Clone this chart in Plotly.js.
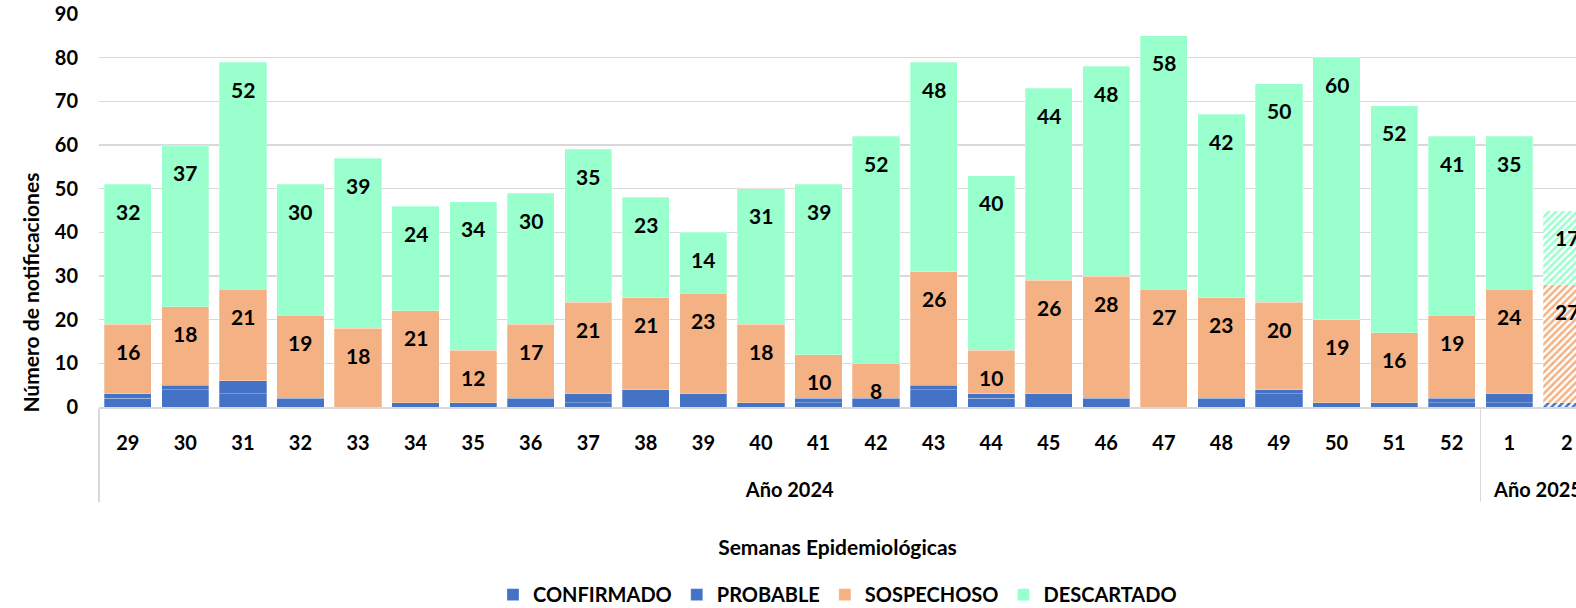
<!DOCTYPE html>
<html>
<head>
<meta charset="utf-8">
<script src="https://cdn.plot.ly/plotly-3.0.1.min.js"></script>
<style>
  html, body { margin: 0; padding: 0; background: #fff; overflow: hidden; }
  #chart { width: 1576px; height: 608px; }
</style>
</head>
<body>
<div id="chart"></div>
<script>
// semanas epidemiologicas y año
const years = ['Año 2024','Año 2024','Año 2024','Año 2024','Año 2024','Año 2024','Año 2024','Año 2024',
  'Año 2024','Año 2024','Año 2024','Año 2024','Año 2024','Año 2024','Año 2024','Año 2024',
  'Año 2024','Año 2024','Año 2024','Año 2024','Año 2024','Año 2024','Año 2024','Año 2024',
  'Año 2025','Año 2025'];
const weeks = ['29','30','31','32','33','34','35','36','37','38','39','40','41','42','43','44',
  '45','46','47','48','49','50','51','52','1','2'];

const confirmado = [2, 4, 3, 0, 0, 0, 0, 0, 1, 0, 0, 0, 1, 0, 4, 2, 0, 0, 0, 0, 3, 0, 0, 1, 1, 0];
const probable   = [1, 1, 3, 2, 0, 1, 1, 2, 2, 4, 3, 1, 1, 2, 1, 1, 3, 2, 0, 2, 1, 1, 1, 1, 2, 1];
const sospechoso = [16, 18, 21, 19, 18, 21, 12, 17, 21, 21, 23, 18, 10, 8, 26, 10, 26, 28, 27, 23, 20, 19, 16, 19, 24, 27];
const descartado = [32, 37, 52, 30, 39, 24, 34, 30, 35, 23, 14, 31, 39, 52, 48, 40, 44, 48, 58, 42, 50, 60, 52, 41, 35, 17];

// la ultima semana es preliminar (rayada)
const preliminar = weeks.map((w, i) => i === weeks.length - 1 ? '/' : '');

const FONT = 'Lato, "Open Sans", sans-serif';

// etiquetas del eje: texto a 20px dentro de un eje de 25px para separar los dos niveles
const lbl = s => '<span style="font-size:20px">' + s + '</span>';
const x = [years.map(y => '<br>' + lbl(y)), weeks.map(lbl)];

function serie(name, values, color) {
  return {
    type: 'bar',
    name: name,
    x: x,
    y: values,
    marker: {
      color: color,
      line: {color: 'rgba(255,255,255,0.35)', width: 0.8},
      pattern: {shape: preliminar, fillmode: 'replace', size: 5, solidity: 0.5, bgcolor: '#ffffff'}
    },
    hoverinfo: 'skip'
  };
}

const data = [
  serie('CONFIRMADO', confirmado, '#4472C4'),
  serie('PROBABLE', probable, '#4472C4'),
  serie('SOSPECHOSO', sospechoso, '#F4B183'),
  serie('DESCARTADO', descartado, '#99FFCC')
];

// etiquetas de datos "extremo interno" (como Excel): cerca del tope de cada segmento
const topeSosp = sospechoso.map((v, i) => confirmado[i] + probable[i] + v);
const topeDesc = descartado.map((v, i) => topeSosp[i] + v);
function etiquetas(values, tops) {
  return values.map((v, i) => ({
    text: String(v),
    xref: 'x', yref: 'y',
    x: i, y: tops[i],
    yshift: -27,
    xanchor: 'center', yanchor: 'middle',
    showarrow: false,
    font: {family: FONT, size: 21, color: '#000', weight: 'bold'}
  }));
}

const layout = {
  width: 1576,
  height: 608,
  barmode: 'stack',
  bargap: 0.18,
  paper_bgcolor: '#fff',
  plot_bgcolor: '#fff',
  font: {family: FONT, size: 20, color: '#000', weight: 'bold'},
  margin: {l: 99, r: 0, t: 14, b: 201, autoexpand: false},
  showlegend: true,
  legend: {
    orientation: 'h',
    x: 0.5, xanchor: 'center',
    yref: 'container',
    y: 0.022, yanchor: 'middle',
    font: {family: FONT, size: 20, color: '#000', weight: 'bold'},
    traceorder: 'normal',
    itemclick: false
  },
  annotations: [{
    text: 'Número de notificaciones',
    xref: 'paper', yref: 'paper',
    x: -0.047, y: 0.29,
    xanchor: 'center', yanchor: 'middle',
    textangle: -90,
    showarrow: false,
    font: {family: FONT, size: 21, color: '#000', weight: 'bold'}
  }].concat(etiquetas(sospechoso, topeSosp), etiquetas(descartado, topeDesc)),
  xaxis: {
    type: 'multicategory',
    range: [-0.5, 25.16],
    showgrid: false,
    showline: true,
    linecolor: '#d9d9d9',
    linewidth: 1.5,
    showdividers: true,
    dividercolor: '#d9d9d9',
    dividerwidth: 1.5,
    ticks: '',
    ticklabelstandoff: 11,
    tickfont: {family: FONT, size: 25, color: '#000', weight: 'bold'},
    title: {
      text: 'Semanas Epidemiológicas',
      font: {family: FONT, size: 21, color: '#000', weight: 'bold'},
      standoff: 40
    },
    automargin: false
  },
  yaxis: {
    range: [0, 90],
    dtick: 10,
    showgrid: true,
    gridcolor: '#d9d9d9',
    gridwidth: 1.5,
    zeroline: false,
    showline: false,
    ticks: '',
    ticklabelstandoff: 20,
    tickfont: {family: FONT, size: 20, color: '#000', weight: 'bold'},
    automargin: false
  }
};

Plotly.newPlot('chart', data, layout, {displayModeBar: false, staticPlot: true});
</script>
</body>
</html>
